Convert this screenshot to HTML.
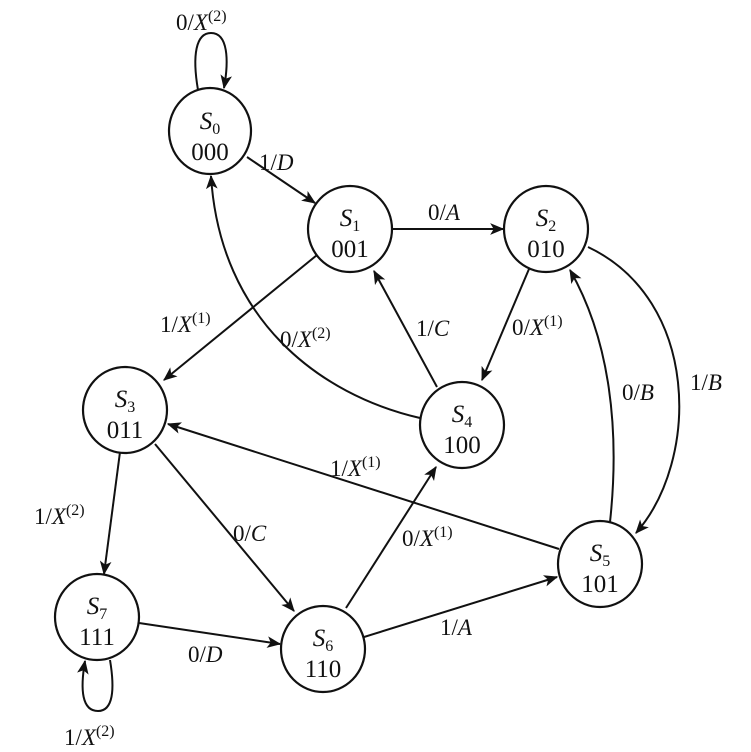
<!DOCTYPE html>
<html><head><meta charset="utf-8"><style>
html,body{margin:0;padding:0;background:#fff;}
svg{display:block;}
text{font-family:"Liberation Serif","Times New Roman",serif;fill:#111;}
.n{font-size:25px;}
.l{font-size:23px;}
</style></head><body>
<svg width="751" height="752" viewBox="0 0 751 752" xmlns="http://www.w3.org/2000/svg">
<defs>
<marker id="a" viewBox="0 0 12 10" refX="11" refY="5" markerWidth="14" markerHeight="12" markerUnits="userSpaceOnUse" orient="auto">
<path d="M0,0 L12,5 L0,10 L3,5 Z" fill="#111"/>
</marker>
</defs>
<g fill="none" stroke="#111" stroke-width="2.2">
<ellipse cx="210" cy="131" rx="41" ry="43"/>
<ellipse cx="350" cy="229" rx="42" ry="43"/>
<ellipse cx="546" cy="229" rx="42" ry="43"/>
<ellipse cx="125" cy="410" rx="42" ry="43"/>
<ellipse cx="462" cy="425" rx="42" ry="43"/>
<ellipse cx="600" cy="564" rx="42" ry="43"/>
<ellipse cx="323" cy="649" rx="42" ry="43"/>
<ellipse cx="97" cy="617" rx="42" ry="43"/>
</g>
<g fill="none" stroke="#111" stroke-width="2" marker-end="url(#a)">
<path d="M198,90 C192,55 196,33 211,33 C228,33 229,60 224,88"/>
<path d="M247,157 L315,203"/>
<path d="M392,229 L503,229"/>
<path d="M529,269 L482,380"/>
<path d="M437,387 L374,271"/>
<path d="M317,255 L164,380"/>
<path d="M420,418 C320,395 220,320 211,176"/>
<path d="M610,522 C620,430 610,340 570,270"/>
<path d="M588,247 C700,300 700,460 636,533"/>
<path d="M559,549 L168,424"/>
<path d="M120,452 L104,574"/>
<path d="M155,444 L294,611"/>
<path d="M346,608 L436,467"/>
<path d="M364,637 L557,577"/>
<path d="M139,623 L280,644"/>
<path d="M110,660 C115,690 113,711 98,711 C82,711 80,690 85,661"/>
</g>
<g class="n" text-anchor="middle">
<text x="210" y="129"><tspan font-style="italic">S</tspan><tspan font-size="16" dy="5">0</tspan></text><text x="210" y="160">000</text>
<text x="350" y="226"><tspan font-style="italic">S</tspan><tspan font-size="16" dy="5">1</tspan></text><text x="350" y="257">001</text>
<text x="546" y="226"><tspan font-style="italic">S</tspan><tspan font-size="16" dy="5">2</tspan></text><text x="546" y="257">010</text>
<text x="125" y="407"><tspan font-style="italic">S</tspan><tspan font-size="16" dy="5">3</tspan></text><text x="125" y="438">011</text>
<text x="462" y="422"><tspan font-style="italic">S</tspan><tspan font-size="16" dy="5">4</tspan></text><text x="462" y="453">100</text>
<text x="600" y="561"><tspan font-style="italic">S</tspan><tspan font-size="16" dy="5">5</tspan></text><text x="600" y="592">101</text>
<text x="323" y="646"><tspan font-style="italic">S</tspan><tspan font-size="16" dy="5">6</tspan></text><text x="323" y="677">110</text>
<text x="97" y="614"><tspan font-style="italic">S</tspan><tspan font-size="16" dy="5">7</tspan></text><text x="97" y="645">111</text>
</g>
<g class="l">
<text x="176" y="30">0/<tspan font-style="italic">X</tspan><tspan font-size="16" dy="-9">(2)</tspan></text>
<text x="259" y="170">1/<tspan font-style="italic">D</tspan></text>
<text x="428" y="220">0/<tspan font-style="italic">A</tspan></text>
<text x="512" y="335">0/<tspan font-style="italic">X</tspan><tspan font-size="16" dy="-9">(1)</tspan></text>
<text x="416" y="336">1/<tspan font-style="italic">C</tspan></text>
<text x="160" y="332">1/<tspan font-style="italic">X</tspan><tspan font-size="16" dy="-9">(1)</tspan></text>
<text x="280" y="347">0/<tspan font-style="italic">X</tspan><tspan font-size="16" dy="-9">(2)</tspan></text>
<text x="622" y="400">0/<tspan font-style="italic">B</tspan></text>
<text x="690" y="390">1/<tspan font-style="italic">B</tspan></text>
<text x="330" y="476">1/<tspan font-style="italic">X</tspan><tspan font-size="16" dy="-9">(1)</tspan></text>
<text x="34" y="524">1/<tspan font-style="italic">X</tspan><tspan font-size="16" dy="-9">(2)</tspan></text>
<text x="233" y="541">0/<tspan font-style="italic">C</tspan></text>
<text x="402" y="546">0/<tspan font-style="italic">X</tspan><tspan font-size="16" dy="-9">(1)</tspan></text>
<text x="440" y="635">1/<tspan font-style="italic">A</tspan></text>
<text x="188" y="662">0/<tspan font-style="italic">D</tspan></text>
<text x="64" y="745">1/<tspan font-style="italic">X</tspan><tspan font-size="16" dy="-9">(2)</tspan></text>
</g>
</svg>
</body></html>
